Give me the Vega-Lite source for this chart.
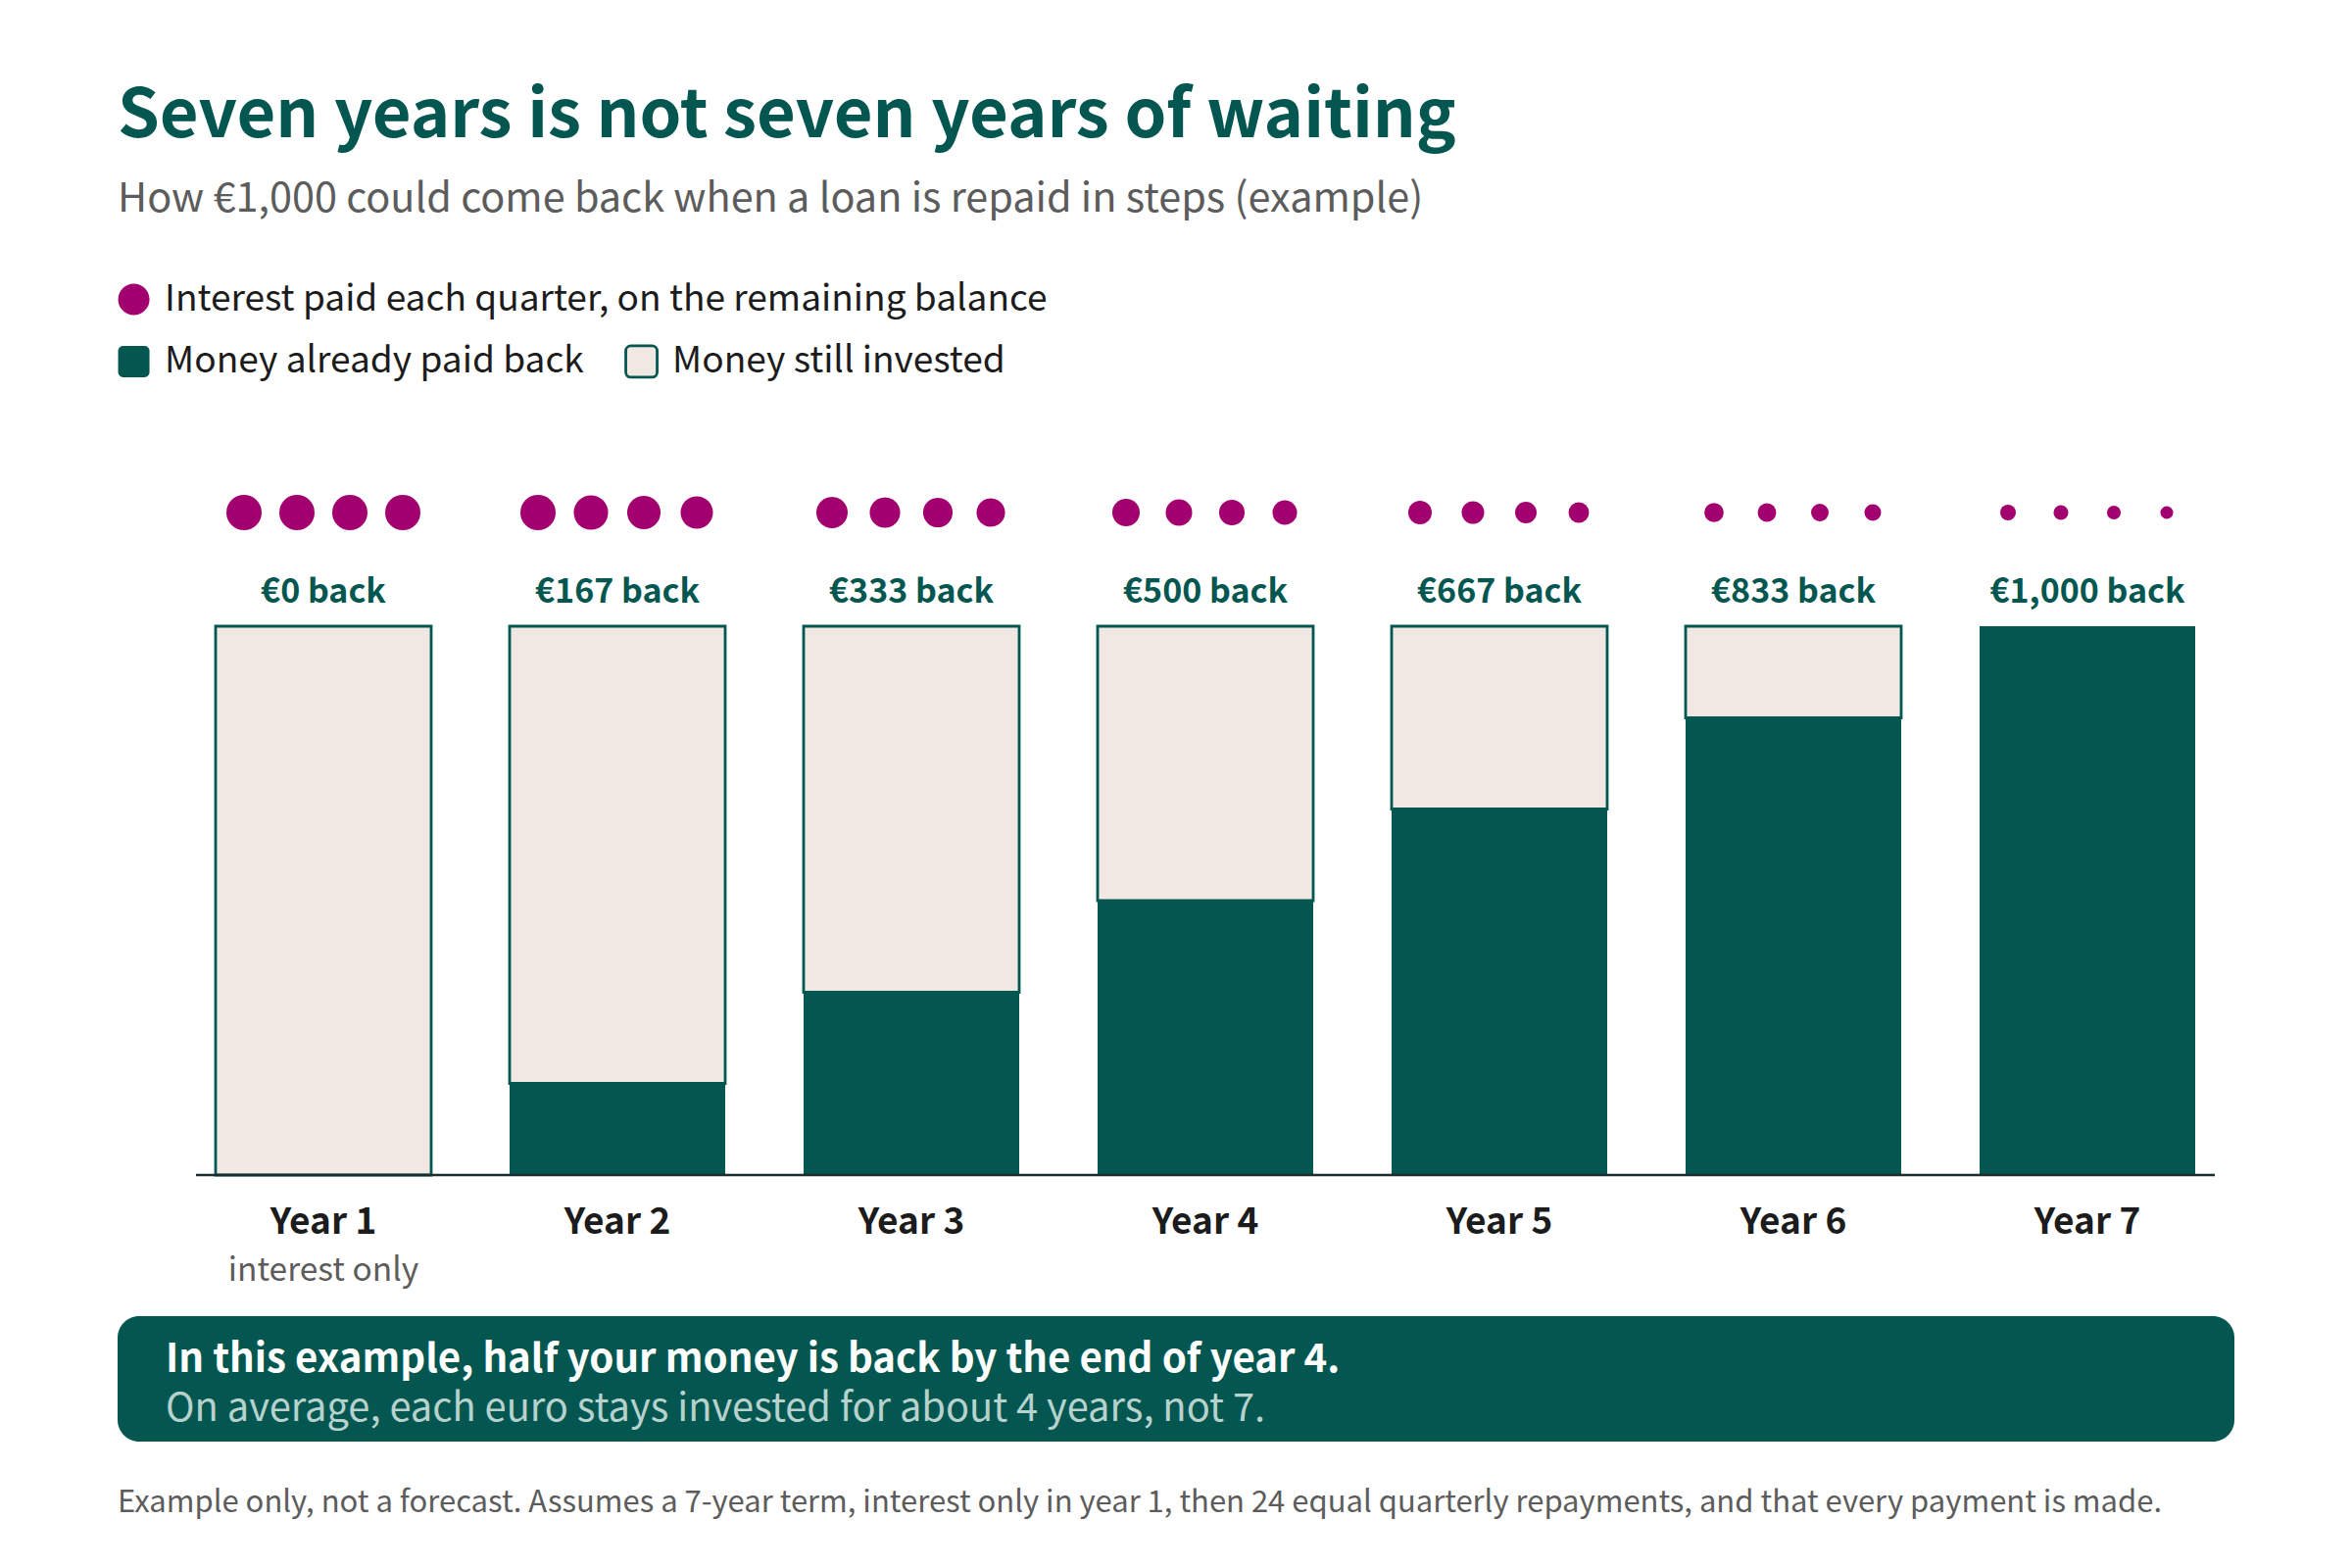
{
  "$schema": "https://vega.github.io/schema/vega-lite/v6.json",
  "background": "white",
  "padding": {"left": 118, "right": 120, "top": 85, "bottom": 40},
  "config": {"font": "Noto Sans CJK SC", "view": {"stroke": null}},
  "title": {
    "text": "Seven years is not seven years of waiting",
    "subtitle": "How €1,000 could come back when a loan is repaid in steps (example)",
    "anchor": "start",
    "frame": "group",
    "font": "Noto Sans CJK SC",
    "fontSize": 68.65,
    "fontWeight": 700,
    "color": "#045751",
    "subtitleFont": "Noto Sans CJK SC",
    "subtitleFontSize": 41.4,
    "subtitleFontWeight": 400,
    "subtitleColor": "#5c5c5c",
    "subtitlePadding": 28,
    "offset": 61.5
  },
  "datasets": {
    "segments": [
      {"year": "Year 1", "kind": "Money still invested", "amount": 1000},
      {"year": "Year 2", "kind": "Money still invested", "amount": 833},
      {"year": "Year 3", "kind": "Money still invested", "amount": 667},
      {"year": "Year 4", "kind": "Money still invested", "amount": 500},
      {"year": "Year 5", "kind": "Money still invested", "amount": 333},
      {"year": "Year 6", "kind": "Money still invested", "amount": 167},
      {"year": "Year 2", "kind": "Money already paid back", "amount": 167},
      {"year": "Year 3", "kind": "Money already paid back", "amount": 333},
      {"year": "Year 4", "kind": "Money already paid back", "amount": 500},
      {"year": "Year 5", "kind": "Money already paid back", "amount": 667},
      {"year": "Year 6", "kind": "Money already paid back", "amount": 833},
      {"year": "Year 7", "kind": "Money already paid back", "amount": 1000}
    ],
    "years": [
      {"year": "Year 1", "back": "€0 back"},
      {"year": "Year 2", "back": "€167 back"},
      {"year": "Year 3", "back": "€333 back"},
      {"year": "Year 4", "back": "€500 back"},
      {"year": "Year 5", "back": "€667 back"},
      {"year": "Year 6", "back": "€833 back"},
      {"year": "Year 7", "back": "€1,000 back"}
    ],
    "quarters": [
      {"year": "Year 1", "quarter": "Q1", "balance": 1000, "series": "Interest paid each quarter, on the remaining balance"},
      {"year": "Year 1", "quarter": "Q2", "balance": 1000, "series": "Interest paid each quarter, on the remaining balance"},
      {"year": "Year 1", "quarter": "Q3", "balance": 1000, "series": "Interest paid each quarter, on the remaining balance"},
      {"year": "Year 1", "quarter": "Q4", "balance": 1000, "series": "Interest paid each quarter, on the remaining balance"},
      {"year": "Year 2", "quarter": "Q1", "balance": 1000, "series": "Interest paid each quarter, on the remaining balance"},
      {"year": "Year 2", "quarter": "Q2", "balance": 958, "series": "Interest paid each quarter, on the remaining balance"},
      {"year": "Year 2", "quarter": "Q3", "balance": 917, "series": "Interest paid each quarter, on the remaining balance"},
      {"year": "Year 2", "quarter": "Q4", "balance": 875, "series": "Interest paid each quarter, on the remaining balance"},
      {"year": "Year 3", "quarter": "Q1", "balance": 833, "series": "Interest paid each quarter, on the remaining balance"},
      {"year": "Year 3", "quarter": "Q2", "balance": 792, "series": "Interest paid each quarter, on the remaining balance"},
      {"year": "Year 3", "quarter": "Q3", "balance": 750, "series": "Interest paid each quarter, on the remaining balance"},
      {"year": "Year 3", "quarter": "Q4", "balance": 708, "series": "Interest paid each quarter, on the remaining balance"},
      {"year": "Year 4", "quarter": "Q1", "balance": 667, "series": "Interest paid each quarter, on the remaining balance"},
      {"year": "Year 4", "quarter": "Q2", "balance": 625, "series": "Interest paid each quarter, on the remaining balance"},
      {"year": "Year 4", "quarter": "Q3", "balance": 583, "series": "Interest paid each quarter, on the remaining balance"},
      {"year": "Year 4", "quarter": "Q4", "balance": 542, "series": "Interest paid each quarter, on the remaining balance"},
      {"year": "Year 5", "quarter": "Q1", "balance": 500, "series": "Interest paid each quarter, on the remaining balance"},
      {"year": "Year 5", "quarter": "Q2", "balance": 458, "series": "Interest paid each quarter, on the remaining balance"},
      {"year": "Year 5", "quarter": "Q3", "balance": 417, "series": "Interest paid each quarter, on the remaining balance"},
      {"year": "Year 5", "quarter": "Q4", "balance": 375, "series": "Interest paid each quarter, on the remaining balance"},
      {"year": "Year 6", "quarter": "Q1", "balance": 333, "series": "Interest paid each quarter, on the remaining balance"},
      {"year": "Year 6", "quarter": "Q2", "balance": 292, "series": "Interest paid each quarter, on the remaining balance"},
      {"year": "Year 6", "quarter": "Q3", "balance": 250, "series": "Interest paid each quarter, on the remaining balance"},
      {"year": "Year 6", "quarter": "Q4", "balance": 208, "series": "Interest paid each quarter, on the remaining balance"},
      {"year": "Year 7", "quarter": "Q1", "balance": 167, "series": "Interest paid each quarter, on the remaining balance"},
      {"year": "Year 7", "quarter": "Q2", "balance": 125, "series": "Interest paid each quarter, on the remaining balance"},
      {"year": "Year 7", "quarter": "Q3", "balance": 83, "series": "Interest paid each quarter, on the remaining balance"},
      {"year": "Year 7", "quarter": "Q4", "balance": 42, "series": "Interest paid each quarter, on the remaining balance"}
    ],
    "callout": [
      {"part": "headline", "line": "In this example, half your money is back by the end of year 4."},
      {"part": "detail", "line": "On average, each euro stays invested for about 4 years, not 7."}
    ]
  },
  "bounds": "flush",
  "spacing": 144,
  "vconcat": [
    {
      "width": 2160,
      "height": 560,
      "encoding": {
        "x": {
          "field": "year",
          "type": "nominal",
          "scale": {"type": "band", "paddingInner": 0.26667, "paddingOuter": 0.23333, "align": 0.71429},
          "axis": {
            "title": null,
            "domain": false,
            "ticks": false,
            "labelAngle": 0,
            "labelFont": "Noto Sans CJK SC",
            "labelFontSize": 37,
            "labelFontWeight": 700,
            "labelColor": "#1c1c1c",
            "labelPadding": 30
          }
        }
      },
      "layer": [
        {
          "data": {"name": "segments"},
          "mark": {"type": "bar", "strokeWidth": 2.8, "width": 220},
          "encoding": {
            "y": {"field": "amount", "type": "quantitative", "stack": "zero", "scale": {"domain": [0, 1000]}, "axis": null},
            "order": {"field": "kind", "sort": "ascending"},
            "fill": {
              "field": "kind",
              "type": "nominal",
              "scale": {"domain": ["Money already paid back", "Money still invested"], "range": ["#045751", "#f1e8e3"]},
              "legend": {
                "orient": "none",
                "legendX": -2,
                "legendY": -289,
                "direction": "horizontal",
                "columns": 2,
                "columnPadding": 36,
                "title": null,
                "symbolType": "M-0.68,-1H0.68A0.32,0.32,0,0,1,1,-0.68V0.68A0.32,0.32,0,0,1,0.68,1H-0.68A0.32,0.32,0,0,1,-1,0.68V-0.68A0.32,0.32,0,0,1,-0.68,-1Z",
                "symbolSize": 1024,
                "symbolOpacity": 1,
                "labelFont": "Noto Sans CJK SC",
                "labelFontSize": 37.1,
                "labelColor": "#1c1c1c",
                "labelOffset": 13,
                "labelLimit": 1200,
                "symbolStrokeColor": "#045751",
                "symbolStrokeWidth": 2.8,
                "encode": {
                  "symbols": {
                    "update": {
                      "stroke": {"signal": "datum.value === 'Money still invested' ? '#045751' : 'transparent'"},
                      "strokeWidth": {"value": 2.8}
                    }
                  }
                }
              }
            },
            "stroke": {
              "condition": {"test": "datum.kind === 'Money still invested'", "value": "#045751"},
              "value": null
            }
          }
        },
        {
          "data": {"name": "quarters"},
          "mark": {"type": "point", "shape": "circle", "filled": true, "opacity": 1, "yOffset": -116},
          "encoding": {
            "xOffset": {"field": "quarter", "type": "nominal", "scale": {"type": "point", "padding": 0.537}},
            "y": {"datum": 1000},
            "size": {
              "field": "balance",
              "type": "quantitative",
              "legend": null,
              "scale": {
                "domain": [42, 167, 333, 500, 667, 833, 1000],
                "range": [170, 256, 388, 576, 784, 1024, 1296]
              }
            },
            "fill": {
              "field": "series",
              "type": "nominal",
              "scale": {"range": ["#a3006f"]},
              "legend": {
                "orient": "none",
                "legendX": -2,
                "legendY": -352,
                "title": null,
                "symbolType": "circle",
                "symbolSize": 1024,
                "symbolOpacity": 1,
                "labelFont": "Noto Sans CJK SC",
                "labelFontSize": 37.1,
                "labelColor": "#1c1c1c",
                "labelOffset": 13,
                "labelLimit": 1200
              }
            }
          }
        },
        {
          "data": {"name": "years"},
          "mark": {"type": "text", "font": "Noto Sans CJK SC", "fontSize": 34, "fontWeight": 700, "color": "#045751", "baseline": "middle", "dy": -34},
          "encoding": {
            "y": {"datum": 1000},
            "text": {"field": "back"}
          }
        },
        {
          "data": {"values": [{"year": "Year 1", "note": "interest only"}]},
          "mark": {"type": "text", "font": "Noto Sans CJK SC", "fontSize": 33.5, "color": "#5c5c5c", "baseline": "middle", "dy": 98},
          "encoding": {
            "y": {"datum": 0},
            "text": {"field": "note"}
          }
        },
        {
          "data": {"values": [{"line": "baseline"}]},
          "mark": {"type": "rule", "color": "#1c2b2b", "strokeWidth": 2.5, "xOffset": -130, "x2Offset": 130},
          "encoding": {
            "x": {"datum": "Year 1"},
            "x2": {"datum": "Year 7"},
            "y": {"datum": 0}
          }
        }
      ],
      "resolve": {"scale": {"fill": "independent"}}
    },
    {
      "width": 2160,
      "height": 128,
      "view": {"fill": "#045751", "cornerRadius": 22, "stroke": null},
      "title": {
        "text": "Example only, not a forecast. Assumes a 7-year term, interest only in year 1, then 24 equal quarterly repayments, and that every payment is made.",
        "orient": "bottom",
        "anchor": "start",
        "frame": "group",
        "font": "Noto Sans CJK SC",
        "fontSize": 31,
        "fontWeight": 400,
        "color": "#5c5c5c",
        "offset": 48
      },
      "data": {"name": "callout"},
      "encoding": {
        "x": {"datum": 0, "scale": {"domain": [0, 1]}, "axis": null},
        "y": {"field": "part", "type": "nominal", "sort": ["headline", "detail"], "scale": {"type": "point", "padding": 0.806}, "axis": null},
        "text": {"field": "line"}
      },
      "layer": [
        {
          "transform": [{"filter": "datum.part === 'headline'"}],
          "mark": {"type": "text", "align": "left", "baseline": "middle", "dx": 49, "dy": 6, "font": "Noto Sans CJK SC", "fontSize": 40.2, "fontWeight": 700, "color": "#ffffff"}
        },
        {
          "transform": [{"filter": "datum.part === 'detail'"}],
          "mark": {"type": "text", "align": "left", "baseline": "middle", "dx": 49, "dy": 6, "font": "Noto Sans CJK SC", "fontSize": 39.8, "color": "#b7d2cd"}
        }
      ]
    }
  ]
}
